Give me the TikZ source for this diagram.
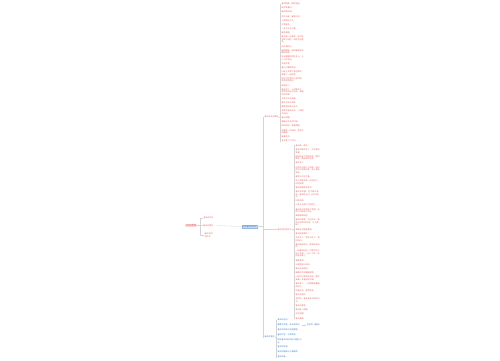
\documentclass[tikz,border=0pt]{standalone}
\usepackage{fontspec}
\usepackage{tikz}
\usetikzlibrary{positioning}
\newfontfamily\cjk{Noto Sans CJK SC}
\XeTeXlinebreaklocale "zh"
\XeTeXlinebreakskip=0pt plus 0.5pt
\definecolor{MapRed}{RGB}{224,106,106}
\definecolor{MapPink}{RGB}{251,226,226}
\definecolor{MapBlue}{RGB}{70,128,200}
\definecolor{MapSky}{RGB}{196,220,244}
\definecolor{MapLine}{RGB}{212,212,212}

\begin{document}
\begin{tikzpicture}[
  x=1pt,y=-1pt,
  txt/.style={font=\cjk\fontsize{2}{2.5}\selectfont},
  leaf/.style={txt,text=MapRed,align=left,text width=22pt,inner sep=0.4pt,anchor=north west},
  wideleaf/.style={leaf,text width=24pt},
  blueleaf/.style={wideleaf,text=MapBlue},
  branch/.style={txt,text=MapRed,inner sep=0.5pt},
  conn/.style={draw=MapLine,line width=0.3pt},
  start/.style={inner sep=0pt,minimum size=0pt,anchor=north west}
]
\useasboundingbox (0,0) rectangle (500,360);

% centre topic
\node[txt,text=MapBlue,fill=MapSky,draw=MapBlue!55,line width=0.25pt,inner sep=0.8pt] (root) at (249.5,226.5) {关于春天的句子};

% left side
\coordinate (lbus) at (200,0);
\node[txt,text=MapRed,inner sep=0.4pt,anchor=east] (leftB) at (216,225.5) {春天的美句。};
\node[txt,text=MapRed,inner sep=0.4pt,anchor=west] (leftA) at (203,218) {春天的句子};
\node[txt,text=MapRed,inner sep=0.4pt,align=left,text width=9pt,anchor=north west] (leftC) at (204,232.5) {春天的好词好句};
\node[font=\cjk\fontsize{2.6}{3}\selectfont,text=MapRed,fill=MapPink,inner sep=0.6pt] (sumbox) at (191,225.5) {内容摘要};
\draw[conn] (root.west) -- (leftB.east);
\draw[conn] (sumbox.east) -- (sumbox.east -| lbus) |- (leftA.west);
\draw[conn] (sumbox.east) -- (leftB.west);
\draw[conn] (sumbox.east) -- (sumbox.east -| lbus) |- (leftC.west);

% main branches
\coordinate (trunk) at (263,0);
\node[branch,anchor=west] (brA) at (264,117) {春天的句子精选};
\node[branch,anchor=west] (brB) at (277,229.5) {春天的优美句子};
\node[branch,anchor=west,text=MapBlue] (brC) at (264,337) {春天的其他};
\draw[conn] (root.east) -- (root.east -| trunk) |- (brA.west);
\draw[conn] (root.east) -- (root.east -| trunk) |- (brB.west);
\draw[conn] (root.east) -- (root.east -| trunk) |- (brC.west);

% branch A
\coordinate (busA) at (280,0);
\node[start] (a0) at (281,0.8) {};
\foreach \t [count=\i, remember=\i as \j (initially 0)] in {
  春风拂面，柳枝轻摇。, 桃花笑春风。, 春雨贵如油。, 燕子归来，春意正浓。,
  小草探出了头。, 万物复苏。, 一年之计在于春。, 春色满园。,
  春天像一位画家，把大地涂成了绿色，到处生机勃勃。, 花开满枝头。,
  细雨绵绵，滋润着刚刚苏醒的田野。, 阳光暖暖地照在身上，让人心旷神怡。,
  鸟语花香。, 春江水暖鸭先知。, 山坡上开满了各色野花，像铺了一层彩毯。,
  孩子们在草地上放风筝，笑声传得很远。, 柳絮纷飞。,
  春天来了，小河解冻了，哗哗地向远方流去，唱着欢快的歌。,
  万紫千红总是春。, 春风又绿江南岸。, 嫩芽悄悄爬上枝头。,
  油菜花金灿灿的，一眼望不到边。, 春光明媚。, 蜜蜂在花丛中忙碌。,
  桃红柳绿，莺歌燕舞。, 田野里一片新绿，农民开始播种。, 春暖花开。, 草长莺飞二月天。}{
  \node[leaf,below=1.1pt of a\j.south west,anchor=north west] (a\i) {\t};
  \draw[conn] (brA.east) -- (brA.east -| busA) |- (a\i.west);
}

% branch B
\coordinate (busB) at (294,0);
\node[start] (b0) at (295,142.5) {};
\foreach \t [count=\i, remember=\i as \j (initially 0)] in {
  春天是一首诗。, 春天的脚步近了，大地渐渐变暖。,
  柳树抽出了新的枝条，随风飘荡，像姑娘的长发。, 春天到了。,
  远处的山披上了绿装，近处的河水清澈见底，鱼儿游来游去。, 春雨沙沙地下着。,
  花儿竞相开放，红的似火，白的如雪。, 春天是播种的季节。,
  春天的早晨，空气格外清新，露珠在叶子上闪闪发光。, 风和日丽。,
  小燕子从南方飞回来了。, 春天给大地带来了希望，也给人们带来了快乐。,
  满眼都是绿色。, 春天的夜晚，月光如水，微风送来阵阵花香，令人陶醉。,
  青蛙在池塘里歌唱。, 春天是温柔的。, 杏花开了，梨花也开了，满树洁白。,
  春风轻轻吹过，麦苗绿油油的。,
  一场春雨过后，竹笋从地下钻了出来，一天一个样，很快就长高了。,
  春意盎然。, 公园里游人如织。, 春天五彩缤纷。, 蝴蝶在花间翩翩起舞。,
  小溪叮叮咚咚地流淌，像在弹奏一支春天的乐曲。, 春天来了，一切都像刚睡醒的样子。,
  惊蛰过后，雷声阵阵。, 春光无限好。, 老师说，春天是读书的好时节。,
  春天在哪里。, 春天是一幅画。, 东风送暖。, 春天最美。}{
  \node[wideleaf,below=1.15pt of b\j.south west,anchor=north west] (b\i) {\t};
  \draw[conn] (brB.east) -- (brB.east -| busB) |- (b\i.west);
}

% branch C
\coordinate (busC) at (276,0);
\node[start] (c0) at (277,316.5) {};
\foreach \t [count=\i, remember=\i as \j (initially 0)] in {
  春天的古诗, 春眠不觉晓，处处闻啼鸟, 春天的成语与词语整理。,
  春回大地，万象更新。, 描写春天的好词好句摘抄大全。, 春天的谚语。,
  春天的歌曲与儿歌推荐。, 春天的画。}{
  \node[blueleaf,below=1.8pt of c\j.south west,anchor=north west] (c\i) {\t};
  \draw[conn] (brC.east) -- (brC.east -| busC) |- (c\i.west);
}
\node[txt,text=MapBlue,inner sep=0.4pt,right=4pt of c2] (c2poem) {孟浩然《春晓》};
\draw[conn] (c2.east) -- (c2poem.west);
\end{tikzpicture}
\end{document}
